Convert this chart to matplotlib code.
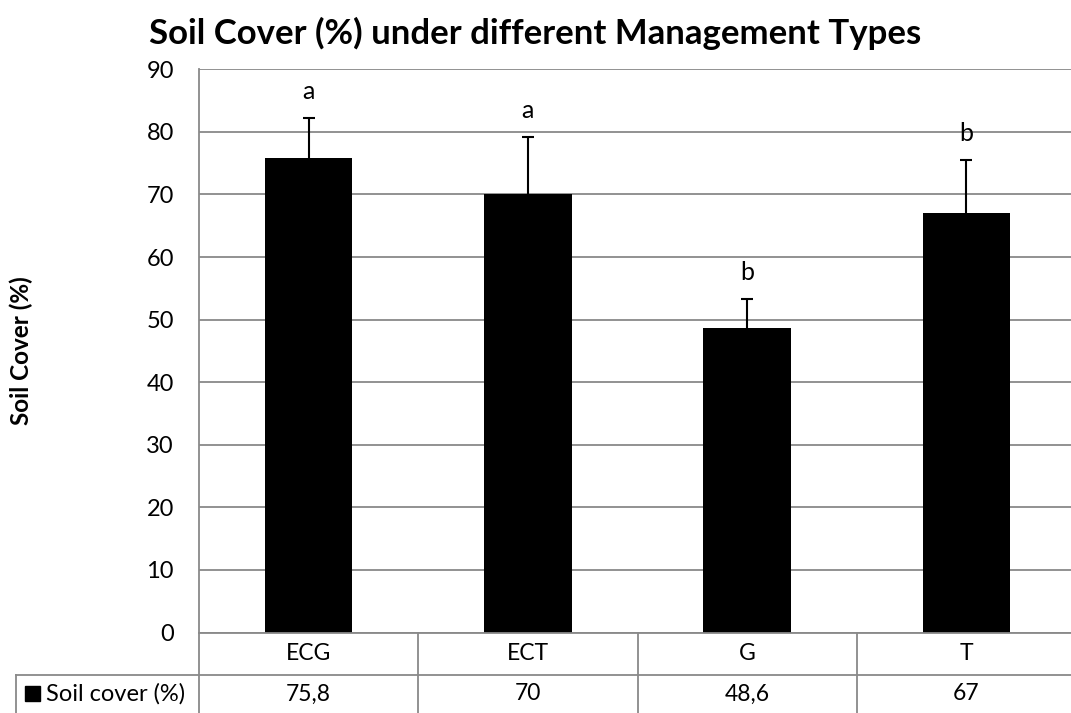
import matplotlib
matplotlib.use("Agg")
import matplotlib.pyplot as plt
from matplotlib.patches import Rectangle
from matplotlib.lines import Line2D
import matplotlib.transforms as mtransforms

plt.rcParams['font.family'] = ['Lato', 'DejaVu Sans']

# data
categories = ["ECG", "ECT", "G", "T"]
soil_cover = [75.8, 70, 48.6, 67]
error_up = [6.4, 9.2, 4.7, 8.5]
letters = ["a", "a", "b", "b"]
series_name = "Soil cover (%)"

W, H = 1071, 713
fig = plt.figure(figsize=(W / 100, H / 100), dpi=100)

# plot area in pixels (right edge goes a bit past the image, as in the original)
left_px, right_px, top_px, bottom_px = 199, 1076, 69.3, 632.5
ax = fig.add_axes([left_px / W, 1 - bottom_px / H,
                   (right_px - left_px) / W, (bottom_px - top_px) / H])

x = list(range(len(categories)))
ax.bar(x, soil_cover, width=0.4, color='black', zorder=3)
eb = ax.errorbar(x, soil_cover, yerr=[[0] * len(x), error_up], fmt='none',
                 ecolor='black', elinewidth=1.5, capsize=4, capthick=1.5, zorder=4)
# only the upper cap, like Excel's "plus" error bars
eb[1][0].set_visible(False)

for xi, v, e, lab in zip(x, soil_cover, error_up, letters):
    ax.annotate(lab, (xi, v + e), xytext=(0, 19), textcoords='offset points',
                ha='center', va='center', fontsize=18)

ax.set_xlim(-0.5, len(categories) - 0.5)
ax.set_ylim(0, 90)
ax.set_yticks(range(0, 91, 10))
ax.tick_params(axis='y', length=0, pad=18, labelsize=17)
ax.set_xticks([])
ax.grid(axis='y', color='#898989', linewidth=1.3, zorder=0)
for s in ['top', 'right', 'bottom']:
    ax.spines[s].set_visible(False)
ax.spines['left'].set_color('#898989')
ax.spines['left'].set_linewidth(1.3)

ax.set_ylabel("Soil Cover (%)", fontsize=17.5, fontweight='bold')
# label coord is the right edge of the rotated text
ax.yaxis.set_label_coords((33 - left_px) / (right_px - left_px), 0.5)

fig.text(0.5, 1 - 33 / H, "Soil Cover (%) under different Management Types",
         ha='center', va='center', fontsize=25, fontweight='bold')

# data table below the axis
line_c = '#898989'
row1_px, row2_px = 675, H + 5
blend = mtransforms.blended_transform_factory(ax.transData, fig.transFigure)

def fy(py):
    return 1 - py / H

fig.add_artist(Line2D([left_px / W, right_px / W], [fy(bottom_px)] * 2,
                      color=line_c, lw=1.3, transform=fig.transFigure))
fig.add_artist(Line2D([16 / W, right_px / W], [fy(row1_px)] * 2,
                      color=line_c, lw=1.3, transform=fig.transFigure))
fig.add_artist(Line2D([16 / W, 16 / W], [fy(row1_px), fy(row2_px)],
                      color=line_c, lw=1.3, transform=fig.transFigure))
for b in [i - 0.5 for i in range(len(categories) + 1)]:
    fig.add_artist(Line2D([b, b], [fy(bottom_px), fy(row2_px)],
                          color=line_c, lw=1.3, transform=blend))

for xi, cat, v in zip(x, categories, soil_cover):
    fig.text(xi, fy(654), cat, ha='center', va='center', fontsize=16.5, transform=blend)
    txt = ("%g" % v).replace('.', ',')
    fig.text(xi, fy(694), txt, ha='center', va='center', fontsize=16.5, transform=blend)

fig.add_artist(Rectangle((25 / W, fy(701)), 15 / W, 15 / H, color='black',
                         transform=fig.transFigure))
fig.text(46 / W, fy(694), series_name, ha='left', va='center', fontsize=17)

fig.savefig("out.png", dpi=100)
